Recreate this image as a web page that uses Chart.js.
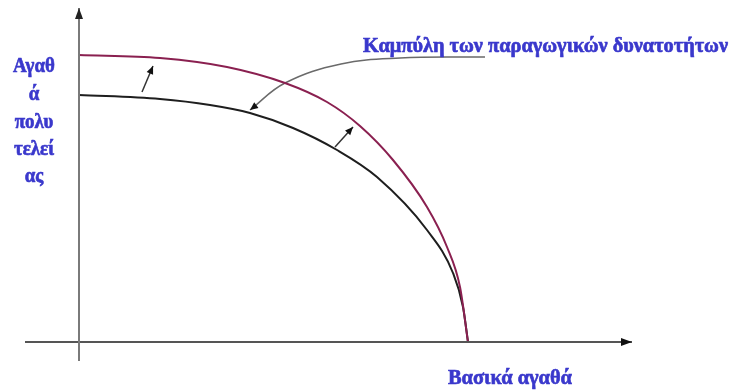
<!DOCTYPE html>
<html>
<head>
<meta charset="utf-8">
<script src="https://cdn.jsdelivr.net/npm/chart.js@4"></script>
<style>
  body { margin: 0; background: #fff; }
  #myChart { display: block; }
</style>
</head>
<body>
<canvas id="myChart" width="731" height="390"></canvas>
<script>
var outerX = [0, 81, 148, 206, 248, 281, 314, 348, 368, 381, 389];
var outerY = [287, 284, 275, 259, 240, 216, 182, 135, 95, 55, 0];
var innerX = [0, 81, 131, 171, 214, 258, 298, 348, 374, 384, 389];
var innerY = [247, 243, 237, 229, 214, 192, 165, 112, 69, 35, 0];

// shift arrows between the curves, and the leader line to the label
var shift1X = [63, 74];
var shift1Y = [250, 276];
var shift2X = [256, 274];
var shift2Y = [195, 215];
var leaderX = [406, 321, 262, 206, 171];
var leaderY = [285, 284, 278, 259, 232];

// axes
var xAxisX = [-54, 553];
var xAxisY = [0, 0];
var yAxisX = [0, 0];
var yAxisY = [-19, 334];

var curveTitle = "Καμπύλη των παραγωγικών δυνατοτήτων";
var xTitle = "Βασικά αγαθά";
var yTitle = ["Αγαθ", "ά", "πολυ", "τελεί", "ας"];

function toPoints(xs, ys) {
  return xs.map(function (x, i) { return { x: x, y: ys[i] }; });
}

function lineSet(xs, ys, color, width, opts) {
  var ds = {
    data: toPoints(xs, ys),
    showLine: true,
    borderColor: color,
    backgroundColor: color,
    borderWidth: width,
    pointRadius: 0,
    fill: false
  };
  return Object.assign(ds, opts || {});
}

// draws an arrow head at the last point of datasets marked with arrow
var arrowPlugin = {
  id: 'arrows',
  afterDatasetsDraw: function (chart) {
    var ctx = chart.ctx;
    chart.data.datasets.forEach(function (ds, i) {
      if (!ds.arrow) return;
      var pts = chart.getDatasetMeta(i).data;
      var a = pts[pts.length - 1], b = pts[pts.length - 2];
      var ang = Math.atan2(a.y - b.y, a.x - b.x);
      var len = ds.arrow.len, w = ds.arrow.w;
      ctx.save();
      ctx.translate(a.x, a.y);
      ctx.rotate(ang);
      ctx.fillStyle = ds.arrow.color;
      ctx.beginPath();
      ctx.moveTo(0, 0);
      ctx.lineTo(-len, -w / 2);
      ctx.lineTo(-len, w / 2);
      ctx.closePath();
      ctx.fill();
      ctx.restore();
    });
  }
};

// condensed serif labels
var textPlugin = {
  id: 'texts',
  afterDraw: function (chart, args, o) {
    var ctx = chart.ctx;
    ctx.save();
    ctx.fillStyle = o.color;
    ctx.strokeStyle = o.color;
    ctx.lineWidth = 0.7;
    ctx.font = o.font;
    ctx.textBaseline = 'alphabetic';
    o.items.forEach(function (it) {
      var w = ctx.measureText(it.text).width;
      var sx = it.width ? it.width / w : o.squeeze;
      ctx.save();
      ctx.translate(it.x, it.y);
      ctx.scale(sx, 1);
      ctx.textAlign = it.align || 'left';
      ctx.fillText(it.text, 0, 0);
      ctx.strokeText(it.text, 0, 0);
      ctx.restore();
    });
    ctx.restore();
  }
};

var yItems = yTitle.map(function (t, i) {
  return { text: t, x: 34, y: [72, 100, 128, 155, 182][i], align: 'center' };
});

new Chart("myChart", {
  type: "scatter",
  data: {
    datasets: [
      lineSet(yAxisX, yAxisY, "#7a7a7a", 2, { arrow: { len: 11, w: 8, color: "#222" } }),
      lineSet(xAxisX, xAxisY, "#555", 2, { arrow: { len: 11, w: 8, color: "#111" } }),
      lineSet(outerX, outerY, "#8a2050", 2, { cubicInterpolationMode: "monotone" }),
      lineSet(innerX, innerY, "#1e1e1e", 2, { cubicInterpolationMode: "monotone" }),
      lineSet(leaderX, leaderY, "#6a6a6a", 1.5, { tension: 0.4, arrow: { len: 8, w: 7, color: "#111" } }),
      lineSet(shift1X, shift1Y, "#333", 1.5, { arrow: { len: 8, w: 7, color: "#111" } }),
      lineSet(shift2X, shift2Y, "#333", 1.5, { arrow: { len: 8, w: 7, color: "#111" } })
    ]
  },
  options: {
    responsive: false,
    animation: false,
    layout: { padding: 0 },
    scales: {
      x: { type: "linear", min: -79, max: 652, display: false },
      y: { type: "linear", min: -48, max: 342, display: false }
    },
    plugins: {
      legend: { display: false },
      tooltip: { enabled: false },
      texts: {
        color: "#3a38cc",
        font: "bold 22px 'Liberation Serif', 'DejaVu Serif', serif",
        squeeze: 0.86,
        items: [
          { text: curveTitle, x: 363, y: 52, width: 365 },
          { text: xTitle, x: 448, y: 384, width: 124 }
        ].concat(yItems)
      }
    }
  },
  plugins: [arrowPlugin, textPlugin]
});
</script>
</body>
</html>
